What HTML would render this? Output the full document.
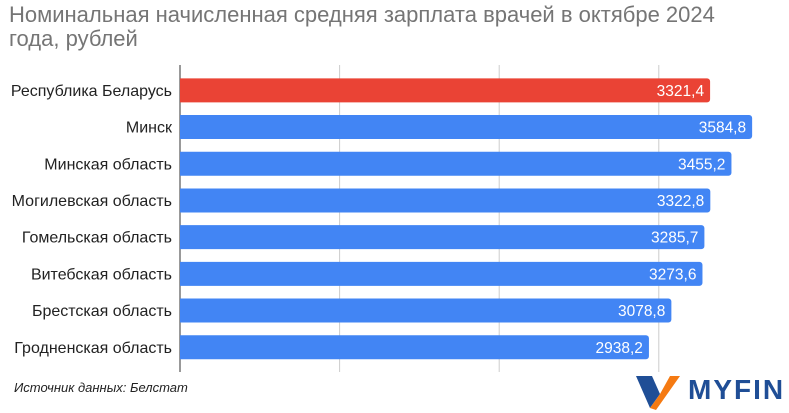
<!DOCTYPE html>
<html><head><meta charset="utf-8"><style>
body{margin:0;width:789px;height:413px;background:#fff;overflow:hidden;font-family:"Liberation Sans",Arial,sans-serif}
</style></head><body>
<div style="position:absolute;left:9px;top:3px;font-size:22px;line-height:24px;color:#757575;width:785px;white-space:nowrap">Номинальная начисленная средняя зарплата врачей в октябре 2024<br>года, рублей</div>
<svg id="c" width="789" height="413" style="position:absolute;left:0;top:0"></svg>
<div style="position:absolute;left:14px;top:380px;font-size:13px;font-style:italic;color:#222">Источник данных: Белстат</div>
<div style="position:absolute;left:636px;top:374px;width:153px;height:36px">
<svg width="48" height="36" style="position:absolute;left:0;top:0"><polygon points="0,2 16,2 24,20 14,34" fill="#1f4e96"/><polygon points="24,20 34,2 44,2 20,36 14,34" fill="#f57a12"/></svg>
<div style="position:absolute;left:52px;top:0px;font-size:28px;font-weight:bold;color:#1f4e96;letter-spacing:2px">MYFIN</div></div>
<script>
const categories=["Республика Беларусь","Минск","Минская область","Могилевская область","Гомельская область","Витебская область","Брестская область","Гродненская область"];
const values=[3321.4,3584.8,3455.2,3322.8,3285.7,3273.6,3078.8,2938.2];
const labels=["3321,4","3584,8","3455,2","3322,8","3285,7","3273,6","3078,8","2938,2"];
const ticks=[0,1000,2000,3000];
const NS="http://www.w3.org/2000/svg",svg=document.getElementById('c');
const x0=180,k=0.1596,top0=72,step=36.7,bh=24;
const X=v=>x0+v*k, Y=i=>top0+i*step;
function el(t,a){const e=document.createElementNS(NS,t);for(const n in a)e.setAttribute(n,a[n]);svg.appendChild(e);return e;}
ticks.forEach(t=>{const g=el('line',{x1:X(t),x2:X(t),y1:65,y2:372,stroke:t?'#ccc':'#333','stroke-width':1});

});
categories.forEach((c,i)=>{
const y=Y(i)+(step-bh)/2,w=X(values[i])-x0;
const b=el('path',{d:`M${x0},${y}h${w-3}a3,3 0 0 1 3,3v${bh-6}a3,3 0 0 1 -3,3h${-(w-3)}z`,fill:i==0?'#ea4335':'#4285f4'});


const l=el('text',{x:172,y:y+bh/2+5.5,'text-anchor':'end','font-size':16,fill:'#222'});l.textContent=c;


const v=el('text',{x:X(values[i])-6,y:y+bh/2+5.5,'text-anchor':'end','font-size':15.5,fill:'#fff'});v.textContent=labels[i];


});
</script>
</body></html>
